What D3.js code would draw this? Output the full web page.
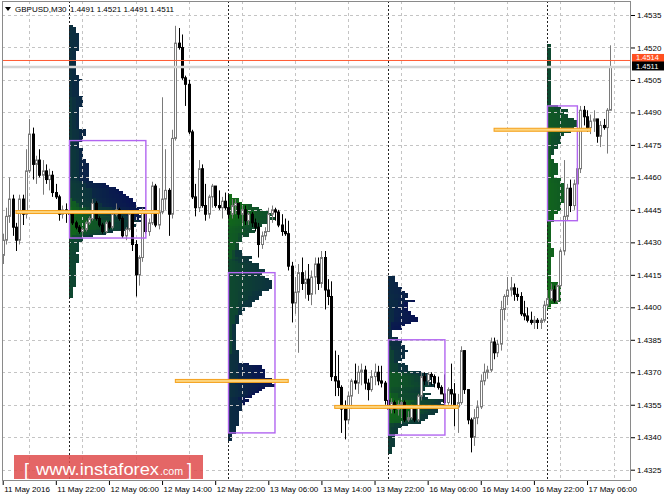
<!DOCTYPE html>
<html><head><meta charset="utf-8">
<script src="https://cdn.jsdelivr.net/npm/d3@7"></script>
<style>body{margin:0;background:#fff;} svg{display:block;font-family:"Liberation Sans",Arial,sans-serif;}</style>
</head><body><svg id="c" width="664" height="498"></svg>
<script>
const symbol = "GBPUSD,M30";
const headerOHLC = "1.4491 1.4521 1.4491 1.4511";
const firstOpen = 1.4424;
const closes = [1.4431,1.4442,1.4450,1.4437,1.4431,1.4450,1.4443,1.4463,1.4480,1.4466,
1.4468,1.4461,1.4463,1.4459,1.4461,1.4453,1.4451,1.4443,1.4445,1.4444,
1.4443,1.4439,1.4437,1.4435,1.4436,1.4439,1.4441,1.4448,1.4441,1.4438,
1.4435,1.4439,1.4437,1.4443,1.4445,1.4441,1.4433,1.4436,1.4443,1.4429,
1.4415,1.4423,1.4444,1.4435,1.4439,1.4456,1.4438,1.4444,1.4450,1.4454,
1.4443,1.4478,1.4522,1.4520,1.4506,1.4503,1.4481,1.4451,1.4446,1.4464,
1.4447,1.4443,1.4451,1.4456,1.4447,1.4446,1.4449,1.4446,1.4443,1.4447,
1.4448,1.4443,1.4445,1.4440,1.4443,1.4439,1.4437,1.4429,1.4433,1.4435,
1.4443,1.4445,1.4444,1.4438,1.4435,1.4434,1.4419,1.4402,1.4407,1.4416,
1.4411,1.4413,1.4406,1.4414,1.4420,1.4411,1.4423,1.4408,1.4405,1.4368,
1.4366,1.4363,1.4353,1.4348,1.4359,1.4366,1.4365,1.4370,1.4371,1.4365,
1.4362,1.4368,1.4370,1.4366,1.4365,1.4357,1.4353,1.4356,1.4353,1.4355,
1.4356,1.4348,1.4349,1.4354,1.4348,1.4359,1.4368,1.4366,1.4369,1.4368,
1.4365,1.4363,1.4360,1.4356,1.4362,1.4360,1.4354,1.4356,1.4380,1.4362,
1.4348,1.4340,1.4349,1.4354,1.4366,1.4370,1.4371,1.4384,1.4379,1.4383,
1.4399,1.4405,1.4408,1.4409,1.4406,1.4405,1.4397,1.4396,1.4394,1.4393,
1.4394,1.4393,1.4394,1.4401,1.4404,1.4408,1.4403,1.4410,1.4426,1.4442,
1.4455,1.4447,1.4457,1.4464,1.4491,1.4488,1.4483,1.4486,1.4487,1.4479,
1.4484,1.4483,1.4491,1.4511];
const highs = [1.4434,1.4446,1.4460,1.4452,1.4439,1.4452,1.4452,1.4473,1.4487,1.4483,
1.4470,1.4473,1.4468,1.4466,1.4464,1.4463,1.4457,1.4452,1.4447,1.4448,
1.4446,1.4444,1.4440,1.4438,1.4437,1.4440,1.4442,1.4450,1.4449,1.4442,
1.4439,1.4440,1.4440,1.4444,1.4448,1.4446,1.4442,1.4437,1.4444,1.4444,
1.4431,1.4424,1.4446,1.4445,1.4441,1.4458,1.4457,1.4455,1.4497,1.4473,
1.4455,1.4482,1.4530,1.4529,1.4526,1.4507,1.4505,1.4482,1.4457,1.4468,
1.4466,1.4457,1.4452,1.4457,1.4454,1.4454,1.4451,1.4453,1.4452,1.4450,
1.4450,1.4448,1.4447,1.4447,1.4444,1.4444,1.4441,1.4439,1.4435,1.4437,
1.4446,1.4447,1.4446,1.4445,1.4443,1.4441,1.4440,1.4421,1.4414,1.4420,
1.4423,1.4417,1.4420,1.4417,1.4423,1.4423,1.4426,1.4426,1.4413,1.4412,
1.4380,1.4378,1.4364,1.4357,1.4361,1.4367,1.4374,1.4373,1.4374,1.4373,
1.4367,1.4371,1.4374,1.4373,1.4373,1.4366,1.4360,1.4358,1.4357,1.4357,
1.4357,1.4357,1.4352,1.4355,1.4354,1.4360,1.4370,1.4370,1.4370,1.4370,
1.4369,1.4368,1.4364,1.4369,1.4363,1.4374,1.4365,1.4360,1.4382,1.4380,
1.4362,1.4349,1.4353,1.4357,1.4369,1.4374,1.4373,1.4386,1.4386,1.4385,
1.4403,1.4406,1.4414,1.4414,1.4411,1.4409,1.4407,1.4403,1.4400,1.4398,
1.4396,1.4395,1.4395,1.4403,1.4408,1.4411,1.4410,1.4411,1.4427,1.4468,
1.4457,1.4459,1.4459,1.4466,1.4493,1.4493,1.4491,1.4489,1.4491,1.4486,
1.4486,1.4487,1.4492,1.4521];
const lows = [1.4420,1.4429,1.4439,1.4433,1.4426,1.4429,1.4438,1.4441,1.4462,1.4459,
1.4457,1.4460,1.4452,1.4457,1.4454,1.4451,1.4450,1.4440,1.4441,1.4439,
1.4442,1.4438,1.4436,1.4434,1.4433,1.4435,1.4438,1.4440,1.4440,1.4437,
1.4434,1.4434,1.4436,1.4436,1.4442,1.4440,1.4432,1.4431,1.4435,1.4426,
1.4405,1.4410,1.4421,1.4434,1.4433,1.4438,1.4437,1.4436,1.4443,1.4445,
1.4433,1.4441,1.4477,1.4519,1.4505,1.4493,1.4480,1.4450,1.4442,1.4444,
1.4446,1.4440,1.4441,1.4446,1.4446,1.4445,1.4441,1.4445,1.4441,1.4441,
1.4443,1.4441,1.4439,1.4438,1.4438,1.4437,1.4435,1.4423,1.4427,1.4431,
1.4435,1.4439,1.4440,1.4437,1.4433,1.4433,1.4417,1.4393,1.4397,1.4379,
1.4408,1.4404,1.4403,1.4401,1.4406,1.4408,1.4409,1.4399,1.4401,1.4366,
1.4359,1.4359,1.4342,1.4339,1.4346,1.4353,1.4362,1.4360,1.4364,1.4362,
1.4357,1.4361,1.4364,1.4364,1.4363,1.4355,1.4352,1.4351,1.4351,1.4350,
1.4349,1.4347,1.4347,1.4348,1.4347,1.4347,1.4357,1.4364,1.4364,1.4364,
1.4363,1.4362,1.4360,1.4355,1.4355,1.4355,1.4345,1.4342,1.4355,1.4360,
1.4346,1.4333,1.4336,1.4346,1.4353,1.4364,1.4367,1.4370,1.4376,1.4377,
1.4380,1.4394,1.4401,1.4405,1.4403,1.4403,1.4396,1.4394,1.4393,1.4392,
1.4390,1.4390,1.4390,1.4393,1.4400,1.4403,1.4402,1.4402,1.4409,1.4424,
1.4440,1.4444,1.4445,1.4449,1.4462,1.4484,1.4481,1.4480,1.4481,1.4476,
1.4474,1.4482,1.4471,1.4491];
const priceTicks = [1.4325,1.4340,1.4355,1.4370,1.4385,1.4400,1.4415,1.4430,1.4445,1.4460,1.4475,1.4490,1.4505,1.4520,1.4535];
const tickLabels = ["11 May 2016","11 May 22:00","12 May 06:00","12 May 14:00","12 May 22:00","13 May 06:00","13 May 14:00","13 May 22:00","16 May 06:00","16 May 14:00","16 May 22:00","17 May 06:00"];
const tickBars = [0,16,32,48,64,80,96,112,128,144,160,176];
const gridBars = [8,24,40,56,72,88,104,120,136,152,168,184];
const dayStart = [20,68,116,164];
const dayEnd = [67,115,163,183];
const pocPrices = [1.4444,1.4366,1.4354,1.4482];
const vaHigh = [1.4477,1.4416,1.4385,1.4493];
const vaLow = [1.4432,1.4342,1.4341,1.4440];
const askPrice = 1.4514, bidPrice = 1.4511;

const svg = d3.select("#c");
const L=2, R=631, T=1, B=481;
const barW = 3.32, x0 = 2.7, n = closes.length;
const x = d3.scaleLinear().domain([0, n-1]).range([x0, x0 + (n-1)*barW]);
const y = d3.scaleLinear().domain([1.4325, 1.4535]).range([469.7, 15]);

svg.append("defs").append("clipPath").attr("id","clip").append("rect")
  .attr("x",L).attr("y",T).attr("width",R-L).attr("height",B-T);
const g = svg.append("g").attr("clip-path","url(#clip)");

// market profiles (TPO from bar data)
const col = d3.interpolateRgb("#126c17", "#091452");
const pip = 0.0001, pipPx = Math.abs(y(0)-y(pip));
const opens = closes.map((c,i)=> i===0 ? firstOpen : closes[i-1]);
const maxCounts = [];
dayStart.forEach((s,d)=>{
  const e = dayEnd[d];
  const levels = new Map();
  for(let i=s;i<=e;i++){
    const hi = Math.max(highs[i],opens[i],closes[i]), lo = Math.min(lows[i],opens[i],closes[i]);
    for(let lv=Math.round(lo/pip); lv<=Math.round(hi/pip); lv++){
      if(!levels.has(lv)) levels.set(lv,[]);
      levels.get(lv).push(i);
    }
  }
  let mx = 0;
  const pg = g.append("g").attr("shape-rendering","crispEdges");
  levels.forEach((arr,lv)=>{
    mx = Math.max(mx, arr.length);
    arr.forEach((bi,k)=>{
      pg.append("rect")
        .attr("x", x(s) + k*barW).attr("width", barW+0.4)
        .attr("y", y((lv+0.5)*pip)).attr("height", pipPx+0.4)
        .attr("fill", col((bi-s)/47));
    });
  });
  maxCounts.push(mx);
});

// grid
g.append("g").selectAll("line").data(priceTicks).join("line")
  .attr("x1",L).attr("x2",R).attr("y1",d=>Math.round(y(d))+0.5).attr("y2",d=>Math.round(y(d))+0.5)
  .attr("stroke","#c4c4c4").attr("stroke-dasharray","3,3");
g.append("g").selectAll("line").data(gridBars).join("line")
  .attr("y1",T).attr("y2",B).attr("x1",d=>Math.round(x(d))+0.5).attr("x2",d=>Math.round(x(d))+0.5)
  .attr("stroke","#c4c4c4").attr("stroke-dasharray","3,3");
// day separators
g.append("g").selectAll("line").data(dayStart).join("line")
  .attr("y1",T).attr("y2",B).attr("x1",d=>Math.round(x(d))+0.5).attr("x2",d=>Math.round(x(d))+0.5)
  .attr("stroke","#222").attr("stroke-dasharray","2,2");

// candles
const cg = g.append("g");
closes.forEach((c,i)=>{
  const o = opens[i];
  const hi = Math.max(highs[i],o,c), lo = Math.min(lows[i],o,c);
  const bull = c >= o;
  const stroke = bull ? "#7a7a7a" : "#000";
  const cx = Math.round(x(i)) + 0.5;
  cg.append("line").attr("x1",cx).attr("x2",cx).attr("y1",y(hi)).attr("y2",y(lo)).attr("stroke",stroke);
  const top = y(Math.max(o,c)), bot = y(Math.min(o,c));
  cg.append("rect").attr("x",cx-1).attr("width",2)
    .attr("y",top).attr("height",Math.max(0.5,bot-top))
    .attr("fill",bull?"#fff":"#000").attr("stroke",stroke).attr("stroke-width",1);
});

// value area boxes and POC lines
dayStart.forEach((s,d)=>{
  const xs = Math.round(x(s))+0.5, w = maxCounts[d]*barW;
  g.append("rect").attr("x",xs).attr("width",w)
    .attr("y",y(vaHigh[d])).attr("height",y(vaLow[d])-y(vaHigh[d]))
    .attr("fill","none").attr("stroke","#b266f0").attr("stroke-width",1.4);
  g.append("rect").attr("x",x(s-16)).attr("width",xs+w+4*barW-x(s-16))
    .attr("y",y(pocPrices[d])-1.5).attr("height",3)
    .attr("fill","#fcd47e").attr("stroke","#f5a01a").attr("stroke-width",1);
});

// ask / bid lines
g.append("line").attr("x1",L).attr("x2",R).attr("y1",y(bidPrice)).attr("y2",y(bidPrice))
  .attr("stroke","#d4d4d4").attr("stroke-width",2.5);
g.append("line").attr("x1",L).attr("x2",R).attr("y1",y(askPrice)).attr("y2",y(askPrice))
  .attr("stroke","#ff5a32").attr("stroke-width",1);

// frame
svg.append("rect").attr("x",L+0.5).attr("y",T+0.5).attr("width",R-L-1).attr("height",B-T-1)
  .attr("fill","none").attr("stroke","#8a8a8a");

// axes
const ya = svg.append("g").attr("transform",`translate(${R},0)`)
  .call(d3.axisRight(y).tickValues(priceTicks).tickSize(4).tickPadding(2).tickFormat(d3.format(".4f")));
ya.select(".domain").remove();
ya.selectAll("text").attr("font-size","8px").attr("font-family","Liberation Sans, Arial").attr("fill","#000");
ya.selectAll("line").attr("stroke","#000");

const xa = svg.append("g").attr("transform",`translate(0,${B})`)
  .call(d3.axisBottom(x).tickValues(tickBars).tickSize(4).tickFormat((d,i)=>tickLabels[i]));
xa.select(".domain").remove();
xa.selectAll("line").attr("stroke","#000");
xa.selectAll("text").attr("font-size","8px").attr("font-family","Liberation Sans, Arial").attr("fill","#000")
  .attr("text-anchor","start").attr("dx","1").attr("y",5);

// price labels
svg.append("rect").attr("x",R+1).attr("width",664-R-1).attr("y",y(askPrice)-6.5).attr("height",8).attr("fill","#ff5020");
svg.append("text").attr("x",R+5).attr("y",y(askPrice)).attr("font-size","7.5px").attr("fill","#fff").text(d3.format(".4f")(askPrice));
svg.append("rect").attr("x",R+1).attr("width",664-R-1).attr("y",y(bidPrice)-5.5).attr("height",9).attr("fill","#000");
svg.append("text").attr("x",R+5).attr("y",y(bidPrice)+2).attr("font-size","7.5px").attr("fill","#fff").text(d3.format(".4f")(bidPrice));

// header
svg.append("path").attr("d","M5,7 L11,7 L8,11 Z").attr("fill","#000");
svg.append("text").attr("x",15).attr("y",12).attr("font-size","8px").attr("fill","#000").text(symbol);
svg.append("text").attr("x",70).attr("y",12).attr("font-size","8px").attr("fill","#000").text(headerOHLC);

// watermark
svg.append("rect").attr("x",14).attr("y",455).attr("width",189).attr("height",24).attr("fill","#df4d4d").attr("opacity",0.86);
const wm = svg.append("g").attr("fill","#fff").attr("font-family","Liberation Sans, Arial");
wm.append("text").attr("x",24).attr("y",476).attr("font-size","18px").text("[");
wm.append("text").attr("x",36).attr("y",475).attr("font-size","17px").attr("textLength",123).attr("lengthAdjust","spacingAndGlyphs").text("www.instaforex");
wm.append("text").attr("x",160).attr("y",475).attr("font-size","11px").attr("textLength",23).attr("lengthAdjust","spacingAndGlyphs").text(".com");
wm.append("text").attr("x",187).attr("y",476).attr("font-size","18px").text("]");
</script></body></html>
